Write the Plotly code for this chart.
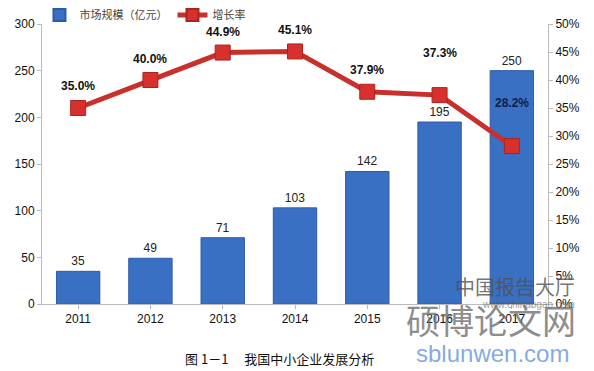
import plotly.graph_objects as go

years = ["2011", "2012", "2013", "2014", "2015", "2016", "2017"]
market_size = [35, 49, 71, 103, 142, 195, 250]
growth_rate = [0.350, 0.400, 0.449, 0.451, 0.379, 0.373, 0.282]
growth_labels = ["35.0%", "40.0%", "44.9%", "45.1%", "37.9%", "37.3%", "28.2%"]

label_shift = [13, 12, 12, 12, 13, 33, 34]
label_color = ["#111111"] * 6 + ["#0d1f4a"]

fig = go.Figure()
fig.add_trace(go.Bar(
    x=years, y=market_size, name="市场规模（亿元）",
    text=[str(v) for v in market_size], textposition="outside",
    textfont=dict(size=12, color="#222222", family="Arial"),
    cliponaxis=False,
    marker=dict(color="#3a70c3", line=dict(color="#2b5ca8", width=1)),
    width=0.6,
))
fig.add_trace(go.Scatter(
    x=years, y=growth_rate, name="增长率", yaxis="y2",
    mode="lines+markers",
    line=dict(color="#c8302c", width=5),
    marker=dict(symbol="square", size=15, color="#d8312d",
                line=dict(color="#a82420", width=1)),
))

for i, (y, t, s, c) in enumerate(zip(growth_rate, growth_labels, label_shift, label_color)):
    fig.add_annotation(x=i, y=y, xref="x", yref="y2", text="<b>%s</b>" % t,
                       showarrow=False, yshift=s, yanchor="bottom",
                       font=dict(size=12, color=c, family="Arial"))

# watermarks
fig.add_annotation(x=1.057, y=0.064, xref="paper", yref="paper",
                   text="中国报告大厅", showarrow=False, xanchor="right", yanchor="middle",
                   font=dict(size=20, color="rgba(80,80,80,0.8)", family="Noto Sans CJK SC"))
fig.add_annotation(x=1.057, y=0.0, xref="paper", yref="paper",
                   text="www.chinabgao.com", showarrow=False, xanchor="right", yanchor="middle",
                   font=dict(size=10, color="rgba(90,90,90,0.6)", family="Arial"))
fig.add_annotation(x=1.06, y=-0.054, xref="paper", yref="paper",
                   text="硕博论文网", showarrow=False, xanchor="right", yanchor="middle",
                   font=dict(size=34, color="rgba(110,110,110,0.8)", family="Noto Sans CJK SC"))
fig.add_annotation(x=1.045, y=-0.175, xref="paper", yref="paper",
                   text="sblunwen.com", showarrow=False, xanchor="right", yanchor="middle",
                   font=dict(size=24, color="rgba(110,155,220,0.85)", family="Arial"))

# caption
fig.add_annotation(x=0.47, y=-0.193, xref="paper", yref="paper",
                   text="图 1－1　 我国中小企业发展分析", showarrow=False,
                   xanchor="center", yanchor="middle",
                   font=dict(size=13, color="#111111", family="Noto Sans CJK SC"))

fig.update_layout(
    width=586, height=363,
    margin=dict(l=34, r=46, t=16, b=67, autoexpand=False),
    paper_bgcolor="white", plot_bgcolor="white",
    showlegend=True,
    legend=dict(orientation="h", x=-0.005, y=1.032, xanchor="left", yanchor="middle",
                font=dict(size=11, color="#444444", family="Noto Sans CJK SC"),
                bgcolor="rgba(0,0,0,0)", itemsizing="constant"),
    font=dict(family="Arial", size=12, color="#111111"),
    xaxis=dict(type="category", range=[-0.5, 6.5], showline=True, linecolor="#bbbbbb",
               ticks="outside", tickcolor="#bbbbbb", ticklen=4, showgrid=False,
               tickfont=dict(size=12), automargin=False),
    yaxis=dict(range=[0, 300], dtick=50, showline=True, linecolor="#bbbbbb",
               ticks="outside", tickcolor="#bbbbbb", ticklen=4, showgrid=False,
               zeroline=False, tickfont=dict(size=12), automargin=False),
    yaxis2=dict(range=[0, 0.5], dtick=0.05, tickformat=".0%", overlaying="y",
                side="right", showline=True, linecolor="#bbbbbb", ticks="outside",
                tickcolor="#bbbbbb", ticklen=4, showgrid=False, zeroline=False,
                tickfont=dict(size=12), automargin=False),
)

fig.write_html("out.html")
